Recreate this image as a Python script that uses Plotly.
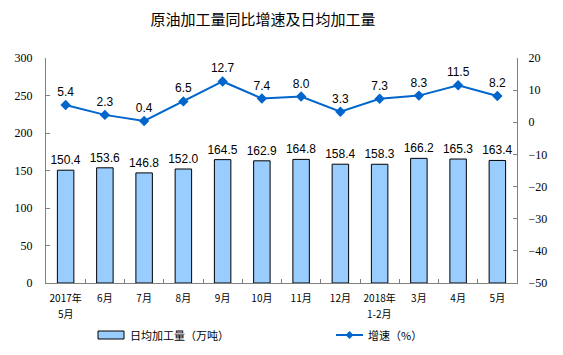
import plotly.graph_objects as go

categories = ["2017年5月", "6月", "7月", "8月", "9月", "10月", "11月", "12月",
              "2018年1-2月", "3月", "4月", "5月"]
tick_line1 = ["2017年", "6月", "7月", "8月", "9月", "10月", "11月", "12月",
              "2018年", "3月", "4月", "5月"]
tick_line2 = ["5月", "", "", "", "", "", "", "", "1-2月", "", "", ""]
daily_output = [150.4, 153.6, 146.8, 152.0, 164.5, 162.9, 164.8, 158.4, 158.3, 166.2, 165.3, 163.4]
growth = [5.4, 2.3, 0.4, 6.5, 12.7, 7.4, 8.0, 3.3, 7.3, 8.3, 11.5, 8.2]
left_ticks = [0, 50, 100, 150, 200, 250, 300]
right_ticks = [-50, -40, -30, -20, -10, 0, 10, 20]

# page has an 8px body margin; figure is sized so the plot lands where the reference has it
OFF = 8
W, H = 563 - OFF, 355 - OFF
L, R, T, B = 46 - OFF, 46, 58 - OFF, 72
pw, ph = W - L - R, H - T - B

def px(x):
    return (x - OFF - L) / pw

def py(y):
    return (OFF + T + ph - y) / ph

BAR = "#99CCFF"
LINE = "#0066CC"
CJK = "Noto Sans CJK SC"

fig = go.Figure()
fig.add_trace(go.Bar(
    x=categories, y=daily_output, width=0.42,
    marker=dict(color=BAR, line=dict(color="black", width=1)),
    text=[f"{v:.1f}" for v in daily_output], textposition="outside",
    constraintext="none",
    textfont=dict(family="Liberation Sans, Arial", size=12, color="black"),
    cliponaxis=False, showlegend=False, yaxis="y",
))
fig.add_trace(go.Scatter(
    x=categories, y=growth, mode="lines+markers+text",
    line=dict(color=LINE, width=2),
    marker=dict(symbol="diamond", size=8, color=LINE),
    text=[f"{v:.1f}" for v in growth], textposition="top center",
    textfont=dict(family="Liberation Sans, Arial", size=12, color="black"),
    cliponaxis=False, showlegend=False, yaxis="y2",
))

axis_font = dict(family="Liberation Serif, Times New Roman", size=12, color="black")
fig.update_layout(
    width=W, height=H,
    margin=dict(l=L, r=R, t=T, b=B, autoexpand=False),
    paper_bgcolor="white", plot_bgcolor="white",
    title=dict(text="原油加工量同比增速及日均加工量", xref="container",
               x=(263 - OFF) / W, xanchor="center", y=1 - (20 - OFF) / H, yanchor="middle",
               font=dict(family=CJK, size=15, color="black")),
    xaxis=dict(showline=True, linecolor="#808080", linewidth=1, ticks="inside",
               tickson="boundaries", ticklen=4, tickcolor="#808080", tickangle=0,
               automargin=False, tickmode="array", tickvals=categories, ticktext=tick_line1,
               ticklabelstandoff=6,
               tickfont=dict(family=CJK, size=10, color="black"),
               showgrid=False, range=[-0.5, 11.5]),
    yaxis=dict(range=[0, 300], tickvals=left_ticks, showline=True, linecolor="#808080",
               ticks="inside", ticklen=4, tickcolor="#808080", showgrid=False,
               zeroline=False, tickfont=axis_font, automargin=False, ticklabelstandoff=10),
    yaxis2=dict(range=[-50, 20], tickvals=right_ticks, overlaying="y", side="right",
                showline=True, linecolor="#808080", ticks="inside", ticklen=4,
                tickcolor="#808080", showgrid=False, zeroline=False, tickfont=axis_font,
                automargin=False, ticklabelstandoff=8),
)

# second line of the two-line category labels
for cat, second in zip(categories, tick_line2):
    if second:
        fig.add_annotation(xref="x", yref="paper", x=cat, y=py(313), xanchor="center",
                           yanchor="middle", showarrow=False, text=second,
                           font=dict(family=CJK, size=10, color="black"))

# custom legend
fig.add_shape(type="rect", xref="paper", yref="paper",
              x0=px(98), x1=px(124), y0=py(339), y1=py(331),
              fillcolor=BAR, line=dict(color="black", width=1))
fig.add_annotation(xref="paper", yref="paper", x=px(128), y=py(335), xanchor="left",
                   yanchor="middle", showarrow=False, text="日均加工量（万吨）",
                   font=dict(family=CJK, size=11, color="black"))
fig.add_shape(type="line", xref="paper", yref="paper",
              x0=px(336), x1=px(363), y0=py(335), y1=py(335),
              line=dict(color=LINE, width=2))
cx, cy, d = 349.5, 335, 4
fig.add_shape(type="path", xref="paper", yref="paper",
              path=(f"M {px(cx - d)} {py(cy)} L {px(cx)} {py(cy - d)} "
                    f"L {px(cx + d)} {py(cy)} L {px(cx)} {py(cy + d)} Z"),
              fillcolor=LINE, line=dict(color=LINE, width=0))
fig.add_annotation(xref="paper", yref="paper", x=px(366), y=py(335), xanchor="left",
                   yanchor="middle", showarrow=False, text="增速（%）",
                   font=dict(family=CJK, size=11, color="black"))

fig.write_html("out.html")
